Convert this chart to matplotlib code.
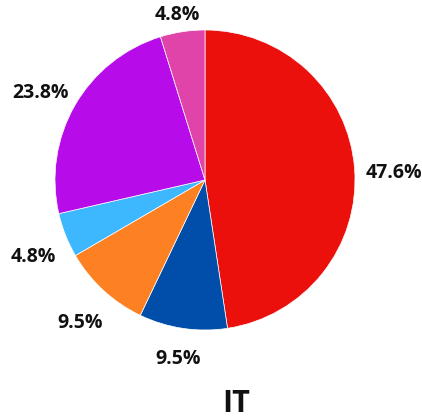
import numpy as np
import matplotlib
matplotlib.use("Agg")
import matplotlib.pyplot as plt
from matplotlib import font_manager as fm

# slice shares, clockwise from 12 o'clock
shares = [47.6, 9.5, 9.5, 4.8, 23.8, 4.8]
colors = ['#ec100c', '#004daa', '#fd8022', '#3db8fe', '#b70ce9', '#e044a9']
title = 'IT'


def bold_font(size):
    # regular-width Open Sans Bold
    for f in fm.fontManager.ttflist:
        if f.fname.endswith('open-sans/OpenSans-Bold.ttf'):
            return fm.FontProperties(fname=f.fname, size=size)
    return fm.FontProperties(family='DejaVu Sans', weight='bold', size=size)


W, H = 422, 418
fig = plt.figure(figsize=(W / 100, H / 100), dpi=100)
cx, cy, r = 205, 180, 150   # pie centre and radius in pixels
ax = fig.add_axes([(cx - r) / W, (H - cy - r) / H, 2 * r / W, 2 * r / H])

wedges, _ = ax.pie(shares, colors=colors, startangle=90, counterclock=False,
                   radius=1.0, wedgeprops=dict(linewidth=0.5, edgecolor='white'))
ax.set_xlim(-1, 1)
ax.set_ylim(-1, 1)
ax.set_aspect('auto')
ax.axis('off')

px = 1.0 / r   # one pixel in data units

texts = []
for w, v in zip(wedges, shares):
    t = ax.text(0, 0, f'{v:.1f}%', ha='center', va='center_baseline',
                fontproperties=bold_font(14), color='#111111', clip_on=False)
    texts.append(t)

# push each label just outside its slice
fig.canvas.draw()
renderer = fig.canvas.get_renderer()
for w, t in zip(wedges, texts):
    ang = np.deg2rad((w.theta1 + w.theta2) / 2)
    c, s = np.cos(ang), np.sin(ang)
    hw = t.get_window_extent(renderer).width / 2
    dx = np.sign(c) * (hw + 11.5) * abs(c)
    dy = np.sign(s) * 20.7 * abs(s) * (1 + abs(c)) - 4.5
    t.set_position((c + dx * px, s + dy * px))

fig.text(236 / W, 1 - 401 / H, title, ha='center', va='center_baseline',
         fontproperties=bold_font(22), color='#111111')

fig.savefig('out.png', dpi=100, facecolor='white')
